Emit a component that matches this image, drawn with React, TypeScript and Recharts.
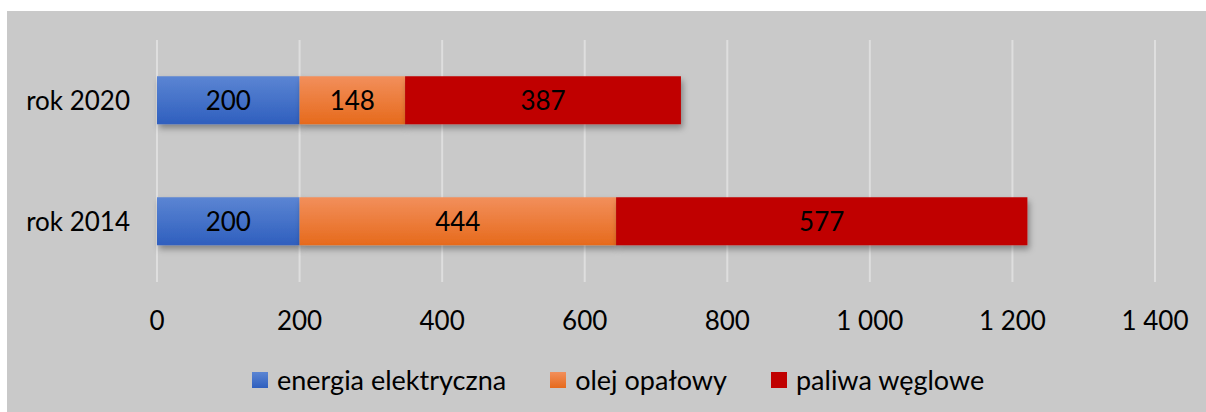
import React from "react";
import { BarChart, Bar, XAxis, YAxis, CartesianGrid, LabelList } from "recharts";

const categories = ["rok 2020", "rok 2014"];
const energiaElektryczna = [200, 200];
const olejOpalowy = [148, 444];
const paliwaWeglowe = [387, 577];
const xTicks = [0, 200, 400, 600, 800, 1000, 1200, 1400];

const seriesNames = ["energia elektryczna", "olej opałowy", "paliwa węglowe"];
const seriesKeys = ["e", "o", "p"];
const seriesFills = ["url(#gBlue)", "url(#gOrange)", "#c00000"];
const legendSwatches = [
  "linear-gradient(#5b85d3, #2f5fbe)",
  "linear-gradient(#f28f5b, #e66a1c)",
  "#c00000",
];

const data = categories.map((c, i) => ({
  name: c,
  e: energiaElektryczna[i],
  o: olejOpalowy[i],
  p: paliwaWeglowe[i],
}));

const FONT = "Lato, 'Open Sans', sans-serif";

const fmt = (v: number) => String(v).replace(/\B(?=(\d{3})+(?!\d))/g, " ");

export default function App() {
  return (
    <div style={{ position: "absolute", left: 0, top: 0, width: 1206, height: 412, background: "#fff" }}>
      <div style={{ position: "absolute", left: 7, top: 11, width: 1199, height: 401, background: "#c9c9c9" }}>
        <BarChart
          width={1199}
          height={401}
          data={data}
          layout="vertical"
          margin={{ top: 29, right: 51, bottom: 60, left: 0 }}
          barCategoryGap="30%"
        >
          <defs>
            <linearGradient id="gBlue" x1="0" y1="0" x2="0" y2="1">
              <stop offset="0%" stopColor="#5b85d3" />
              <stop offset="100%" stopColor="#2f5fbe" />
            </linearGradient>
            <linearGradient id="gOrange" x1="0" y1="0" x2="0" y2="1">
              <stop offset="0%" stopColor="#f28f5b" />
              <stop offset="100%" stopColor="#e66a1c" />
            </linearGradient>
            <filter id="shadow" x="-10%" y="-20%" width="130%" height="160%">
              <feDropShadow dx="2" dy="4" stdDeviation="3" floodColor="#000" floodOpacity="0.35" />
            </filter>
          </defs>
          <CartesianGrid horizontal={false} vertical={true} stroke="#dedede" strokeWidth={2} />
          <XAxis
            type="number"
            domain={[0, 1400]}
            ticks={xTicks}
            tickFormatter={fmt}
            axisLine={false}
            tickLine={false}
            tickSize={0}
            tickMargin={30}
            height={70}
            interval={0}
            tick={{ fill: "#000", fontSize: 26, fontFamily: FONT }}
          />
          <YAxis
            type="category"
            dataKey="name"
            width={150}
            axisLine={false}
            tickLine={false}
            tickSize={0}
            tickMargin={27}
            tick={{ fill: "#000", fontSize: 26, fontFamily: FONT }}
          />
          {seriesKeys.map((k, i) => (
            <Bar
              key={k}
              dataKey={k}
              name={seriesNames[i]}
              stackId="a"
              fill={seriesFills[i]}
              filter="url(#shadow)"
              isAnimationActive={false}
            >
              <LabelList
                dataKey={k}
                position="center"
                fill="#000"
                style={{ fontSize: 26, fontFamily: FONT }}
              />
            </Bar>
          ))}
        </BarChart>
        <div
          style={{
            position: "absolute",
            left: 245,
            top: 352,
            display: "flex",
            alignItems: "center",
            fontFamily: FONT,
            fontSize: 27,
            color: "#000",
            whiteSpace: "nowrap",
          }}
        >
          {seriesNames.map((n, i) => (
            <div key={n} style={{ display: "flex", alignItems: "center", marginRight: 44 }}>
              <div style={{ width: 16, height: 16, background: legendSwatches[i], marginRight: 9 }} />
              <span>{n}</span>
            </div>
          ))}
        </div>
      </div>
    </div>
  );
}
